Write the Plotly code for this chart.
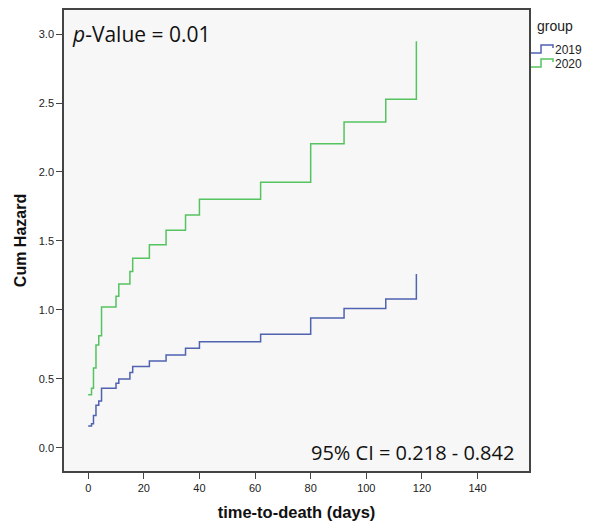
import plotly.graph_objects as go

times = [0, 1.2, 1.9, 2.8, 3.8, 4.8, 10, 11, 15, 16, 22, 28, 35, 40, 62, 80, 92, 107, 118]
haz_2019 = [0.159, 0.176, 0.236, 0.31, 0.34, 0.432, 0.469, 0.50, 0.546, 0.59, 0.630, 0.674,
            0.722, 0.770, 0.824, 0.942, 1.010, 1.080, 1.261]
haz_2020 = [0.386, 0.433, 0.58, 0.746, 0.814, 1.022, 1.10, 1.188, 1.278, 1.374, 1.473, 1.577,
            1.688, 1.802, 1.925, 2.205, 2.362, 2.527, 2.947]
groups = ["2019", "2020"]
colors = ["#4f63b0", "#55c35f"]
x_ticks = [0, 20, 40, 60, 80, 100, 120, 140]
y_ticks = [0.0, 0.5, 1.0, 1.5, 2.0, 2.5, 3.0]

# figure geometry (page has an 8px body margin)
W, H = 587, 515
ML, MR, MT, MB = 56, 66, 2, 52
PW, PH = W - ML - MR, H - MT - MB


def px(xpage):
    return (xpage - 8 - ML) / PW


def py(ypage):
    return 1 - (ypage - 8 - MT) / PH


fig = go.Figure()
for name, vals, col in zip(groups, [haz_2019, haz_2020], colors):
    fig.add_trace(go.Scatter(x=times, y=vals, mode="lines", line_shape="hv",
                             line=dict(color=col, width=1.5), name=name, showlegend=False))

axis_font = dict(family="Liberation Sans, Arial, sans-serif", size=11, color="#222")
fig.update_layout(
    width=W, height=H,
    margin=dict(l=ML, r=MR, t=MT, b=MB, autoexpand=False),
    paper_bgcolor="white", plot_bgcolor="#f7f7f7",
    showlegend=False,
    xaxis=dict(range=[-8.7, 158.5], tickvals=x_ticks, ticktext=[str(v) for v in x_ticks],
               showgrid=False, zeroline=False, showline=True, linecolor="#444", linewidth=1.5,
               mirror=True, ticks="outside", ticklen=6, tickcolor="#444", tickfont=axis_font,
               title=dict(text="<b>time-to-death (days)</b>",
                          font=dict(family="Liberation Sans, Arial", size=16.5, color="#111"), standoff=13)),
    yaxis=dict(range=[-0.167, 3.174], tickvals=y_ticks, ticktext=[f"{v:.1f}" for v in y_ticks],
               showgrid=False, zeroline=False, showline=True, linecolor="#444", linewidth=1.5,
               mirror=True, ticks="outside", ticklen=6, tickcolor="#444", tickfont=axis_font,
               title=dict(text="<b>Cum Hazard</b>",
                          font=dict(family="Liberation Sans, Arial", size=16, color="#111"), standoff=8)),
)
fig.add_annotation(xref="paper", yref="paper", x=0.012, y=0.948, xanchor="left", yanchor="middle",
                   text="<i>p</i>-Value = 0.01", showarrow=False,
                   font=dict(family="Open Sans, Liberation Sans", size=21, color="#111"))
fig.add_annotation(xref="paper", yref="paper", x=0.972, y=0.040, xanchor="right", yanchor="middle",
                   text="95% CI = 0.218 - 0.842", showarrow=False,
                   font=dict(family="Open Sans, Liberation Sans", size=20, color="#111"))

# legend (step-shaped glyphs like the original)
fig.add_annotation(xref="paper", yref="paper", x=px(535), y=py(26), xanchor="left", yanchor="middle",
                   text="group", showarrow=False,
                   font=dict(family="Liberation Sans, Arial", size=14, color="#222"))
for i, (name, col) in enumerate(zip(groups, colors)):
    yc = 50 + 14 * i
    path = (f"M {px(531)},{py(yc + 3)} L {px(541)},{py(yc + 3)} L {px(541)},{py(yc - 5)} "
            f"L {px(553)},{py(yc - 5)} L {px(553)},{py(yc - 2)}")
    fig.add_shape(type="path", xref="paper", yref="paper", path=path,
                  line=dict(color=col, width=1.5))
    fig.add_annotation(xref="paper", yref="paper", x=px(553), y=py(yc), xanchor="left", yanchor="middle",
                       text=name, showarrow=False,
                       font=dict(family="Liberation Sans, Arial", size=12, color="#222"))
fig.write_html("out.html")
